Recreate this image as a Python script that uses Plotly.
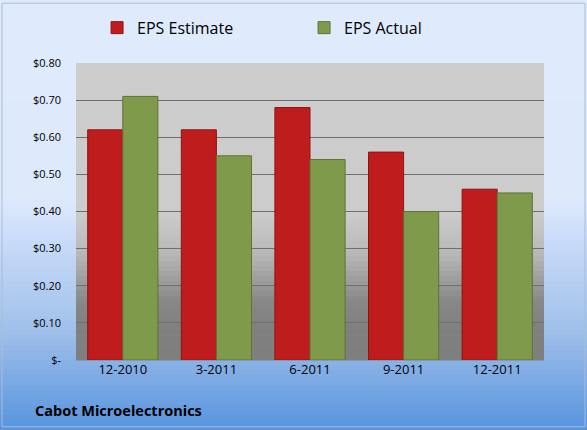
import plotly.graph_objects as go

categories = ["12-2010", "3-2011", "6-2011", "9-2011", "12-2011"]
eps_estimate = [0.62, 0.62, 0.68, 0.56, 0.46]
eps_actual = [0.71, 0.55, 0.54, 0.40, 0.45]
tick_vals = [0, 0.1, 0.2, 0.3, 0.4, 0.5, 0.6, 0.7, 0.8]
tick_text = ["$-", "$0.10", "$0.20", "$0.30", "$0.40", "$0.50", "$0.60", "$0.70", "$0.80"]
title_text = "Cabot Microelectronics"

W, H = 587, 430
ML, MR, MT, MB = 76, 43, 62, 70
PW, PH = W - ML - MR, H - MT - MB

def interp(stops, t):
    for i in range(len(stops) - 1):
        p0, c0 = stops[i]
        p1, c1 = stops[i + 1]
        if p0 <= t <= p1:
            f = 0 if p1 == p0 else (t - p0) / (p1 - p0)
            c = [round(c0[k] + (c1[k] - c0[k]) * f) for k in range(3)]
            return "rgb(%d,%d,%d)" % tuple(c)
    return "rgb(%d,%d,%d)" % stops[-1][1]

shapes = []
bg_stops = [(0, (223, 234, 252)), (200, (222, 233, 252)), (245, (198, 218, 248)),
            (330, (160, 192, 234)), (430, (88, 148, 222))]
N = 86
for i in range(N):
    y0 = H * i / N
    y1 = H * (i + 1) / N + 0.6
    col = interp(bg_stops, (y0 + y1) / 2)
    shapes.append(dict(type="rect", xref="paper", yref="paper", layer="below",
                       x0=-ML / PW, x1=(W - ML) / PW,
                       y0=(H - MB - y1) / PH, y1=(H - MB - y0) / PH,
                       fillcolor=col, line=dict(width=0)))
pa_stops = [(0, (205, 205, 205)), (150, (204, 204, 204)), (190, (185, 185, 185)),
            (240, (135, 135, 135)), (270, (127, 127, 127)), (298, (127, 127, 127))]
N2 = 60
for i in range(N2):
    y0 = PH * i / N2
    y1 = PH * (i + 1) / N2 + 0.6
    col = interp(pa_stops, (y0 + y1) / 2)
    shapes.append(dict(type="rect", xref="paper", yref="paper", layer="below",
                       x0=0, x1=1, y0=1 - y1 / PH, y1=1 - y0 / PH,
                       fillcolor=col, line=dict(width=0)))
shapes.append(dict(type="rect", xref="paper", yref="paper", layer="above",
                   x0=(2 - ML) / PW, x1=(585 - ML) / PW,
                   y0=(H - MB - 427) / PH, y1=(H - MB - 2) / PH,
                   fillcolor="rgba(0,0,0,0)", line=dict(color="#a9bcd6", width=1)))

fig = go.Figure()
fig.add_trace(go.Bar(x=categories, y=eps_estimate, name="EPS Estimate",
                     marker=dict(color="#bf1d1d", line=dict(color="#8e1515", width=1))))
fig.add_trace(go.Bar(x=categories, y=eps_actual, name="EPS Actual",
                     marker=dict(color="#7f9a4a", line=dict(color="#5e7334", width=1))))

fig.update_layout(
    width=W, height=H,
    margin=dict(l=ML, r=MR, t=MT, b=MB),
    paper_bgcolor="#dfeafc", plot_bgcolor="rgba(0,0,0,0)",
    barmode="group", bargap=0.25, bargroupgap=0,
    font=dict(family="Open Sans, Liberation Sans, sans-serif", color="#000000"),
    shapes=shapes,
    showlegend=True,
    legend=dict(orientation="h", x=0.045, y=1.115, xanchor="left", yanchor="middle",
                font=dict(size=16), bgcolor="rgba(0,0,0,0)",
                entrywidth=162, entrywidthmode="pixels"),
    xaxis=dict(showgrid=False, ticks="", tickfont=dict(size=13), showline=False,
               zeroline=False),
    yaxis=dict(range=[0, 0.8], tickvals=tick_vals, ticktext=tick_text,
               showgrid=True, gridcolor="#6e6e6e", gridwidth=1, zeroline=False,
               tickfont=dict(size=11), ticks="", ticklabelstandoff=14),
    annotations=[dict(text="<b>" + title_text + "</b>", xref="paper", yref="paper",
                      x=(33 - ML) / PW, y=(H - MB - 411) / PH, xanchor="left",
                      yanchor="middle", showarrow=False, font=dict(size=14.5))],
)

fig.write_html("out.html")
